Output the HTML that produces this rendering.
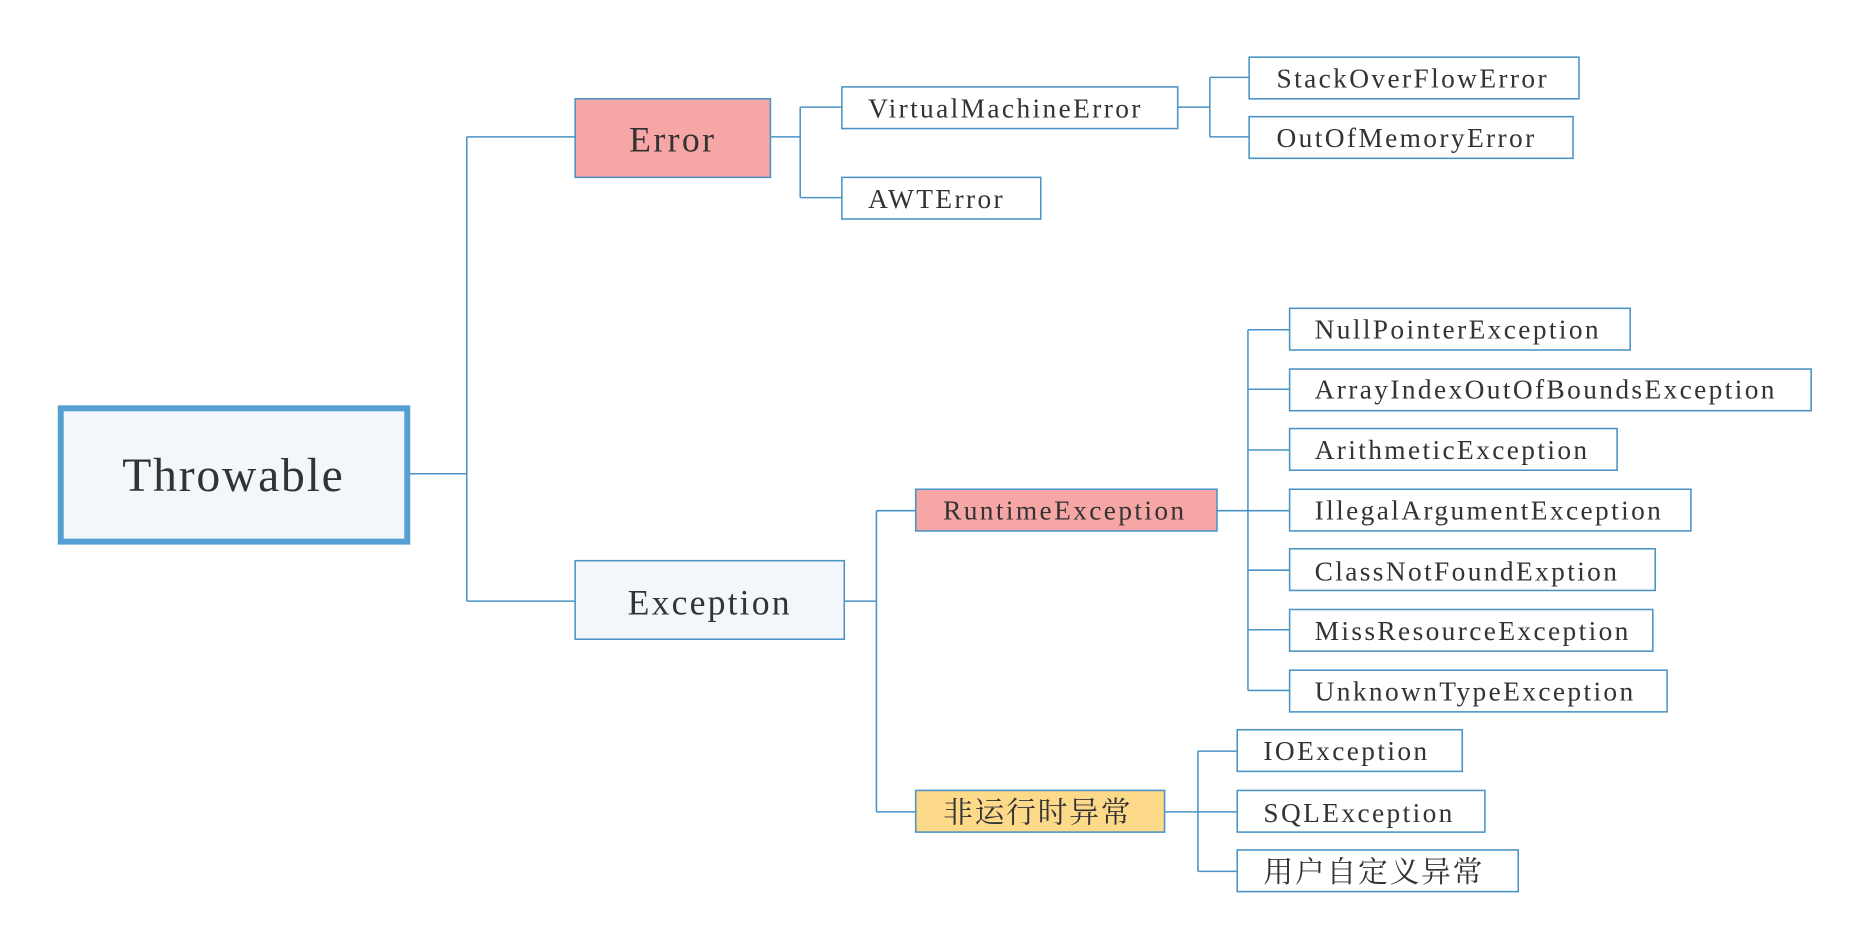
<!DOCTYPE html>
<html><head><meta charset="utf-8"><style>
html,body{margin:0;padding:0;background:#fff;width:1860px;height:944px;overflow:hidden}
svg{display:block}
text{font-family:"Liberation Serif","Noto Serif CJK SC",serif;fill:#333;dominant-baseline:central}
.cjk{font-size:25px;letter-spacing:1.5px}
</style></head><body>
<svg width="1860" height="944" viewBox="0 0 1562 793" preserveAspectRatio="none">
<g stroke="#4a93c4" stroke-width="1.3" fill="none">
<path d="M343 398H392M392 115V505M392 115H483M392 505H483"/>
<path d="M647 115H672M672 90V166M672 90H707M672 166H707"/>
<path d="M989 90H1016M1016 65V115M1016 65H1049M1016 115H1049"/>
<path d="M709 505H736M736 429V682M736 429H769M736 682H769"/>
<path d="M1022 429H1048M1048 277V580M1048 277H1083M1048 327H1083M1048 378H1083M1048 429H1083M1048 479H1083M1048 529H1083M1048 580H1083"/>
<path d="M978 682H1006M1006 631V732M1006 631H1039M1006 682H1039M1006 732H1039"/>
</g>
<rect x="51" y="343" width="291" height="112" fill="#f3f7fc" stroke="#559fd2" stroke-width="5"/>
<text x="196" y="400" font-size="40" letter-spacing="1.5" text-anchor="middle">Throwable</text>
<g stroke="#4a93c4" stroke-width="1.3">
<rect x="483" y="83" width="164" height="66" fill="#f7a6a6"/>
<rect x="483" y="471" width="226" height="66" fill="#f3f7fc"/>
<rect x="769" y="411" width="253" height="35" fill="#f7a6a6"/>
<rect x="769" y="664" width="209" height="35" fill="#fdd98a"/>
<g fill="#fff">
<rect x="707" y="73" width="282" height="35"/>
<rect x="707" y="149" width="167" height="35"/>
<rect x="1049" y="48" width="277" height="35"/>
<rect x="1049" y="98" width="272" height="35"/>
<rect x="1083" y="259" width="286" height="35"/>
<rect x="1083" y="310" width="438" height="35"/>
<rect x="1083" y="360" width="275" height="35"/>
<rect x="1083" y="411" width="337" height="35"/>
<rect x="1083" y="461" width="307" height="35"/>
<rect x="1083" y="512" width="305" height="35"/>
<rect x="1083" y="563" width="317" height="35"/>
<rect x="1039" y="613" width="189" height="35"/>
<rect x="1039" y="664" width="208" height="35"/>
<rect x="1039" y="714" width="236" height="35"/>
</g></g>
<text x="565" y="117" font-size="30" letter-spacing="2" text-anchor="middle">Error</text>
<text x="596" y="506" font-size="30" letter-spacing="1.8" text-anchor="middle">Exception</text>
<g font-size="23" letter-spacing="2">
<text x="792" y="429">RuntimeException</text>
<text x="792" y="683" class="cjk">非运行时异常</text>
<text x="729" y="91">VirtualMachineError</text>
<text x="729" y="167">AWTError</text>
<text x="1072" y="66">StackOverFlowError</text>
<text x="1072" y="116">OutOfMemoryError</text>
<text x="1104" y="277">NullPointerException</text>
<text x="1104" y="327">ArrayIndexOutOfBoundsException</text>
<text x="1104" y="378">ArithmeticException</text>
<text x="1104" y="429">IllegalArgumentException</text>
<text x="1104" y="480">ClassNotFoundExption</text>
<text x="1104" y="530">MissResourceException</text>
<text x="1104" y="581">UnknownTypeException</text>
<text x="1061" y="631">IOException</text>
<text x="1061" y="683">SQLException</text>
<text x="1061" y="733" class="cjk">用户自定义异常</text>
</g>
</svg>
</body></html>
